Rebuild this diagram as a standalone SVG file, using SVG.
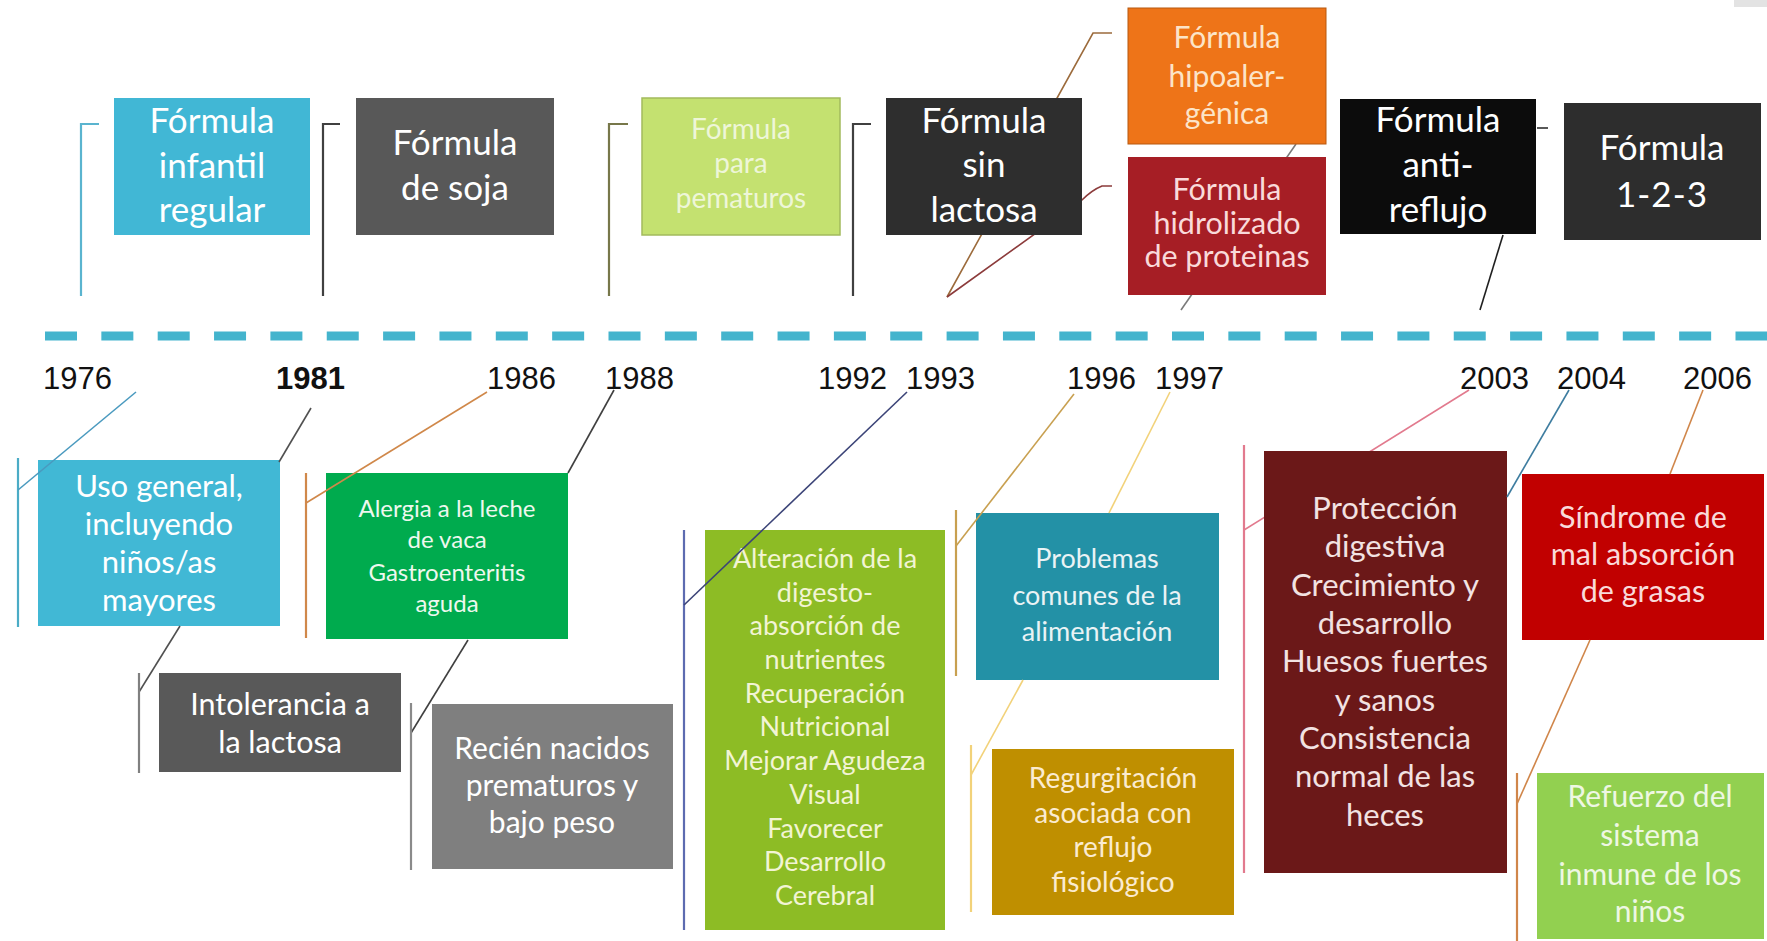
<svg xmlns="http://www.w3.org/2000/svg" width="1767" height="941" viewBox="0 0 1767 941">
<style>
.t{font-family:Lato,"Open Sans","DejaVu Sans",sans-serif;text-anchor:middle}
.y{font-family:"Liberation Sans",Arial,sans-serif;font-size:31px;fill:#111}
.c{fill:none;stroke-width:1.6}
.b{fill:none;stroke-width:2.2}
</style>
<rect width="1767" height="941" fill="#ffffff"/>
<rect x="1734" y="0" width="33" height="7" fill="#e3e3e3"/>

<g id="connectors-back">
<path class="c" stroke="#9c6b3c" d="M1112,33 H1093 L947,297"/>
<path class="c" stroke="#8c3b3b" d="M1112,186 H1102 Q1092,190 1082,200 L947,297"/>
<path class="c" stroke="#7a7a7a" d="M1296,144 L1181,310"/>
<path class="c" stroke="#e27a8e" d="M1469,390 L1244,530"/>
</g>

<line id="timeline" x1="45" y1="336" x2="1767" y2="336" stroke="#44b4cd" stroke-width="9" stroke-dasharray="32 24.35"/>

<g id="n-infantil"><rect x="114" y="98" width="196" height="137" fill="#41b7d5"/>
<text class="t" font-size="35" fill="#fff"><tspan x="212" y="133">Fórmula</tspan><tspan x="212" y="178">infantil</tspan><tspan x="212" y="222">regular</tspan></text></g>
<g id="n-soja"><rect x="356" y="98" width="198" height="137" fill="#585858"/>
<text class="t" font-size="35" fill="#fff"><tspan x="455" y="155">Fórmula</tspan><tspan x="455" y="200">de soja</tspan></text></g>
<g id="n-prematuros"><rect x="642" y="98" width="198" height="137" fill="#c4e170" stroke="#a2ba5c" stroke-width="1.5"/>
<text class="t" font-size="28" fill="#eef6d8"><tspan x="741" y="139">Fórmula</tspan><tspan x="741" y="173">para</tspan><tspan x="741" y="208">pematuros</tspan></text></g>
<g id="n-sinlactosa"><rect x="886" y="98" width="196" height="137" fill="#2e2e2e"/>
<text class="t" font-size="35" fill="#fff"><tspan x="984" y="133">Fórmula</tspan><tspan x="984" y="177">sin</tspan><tspan x="984" y="222">lactosa</tspan></text></g>
<g id="n-hipoalergenica"><rect x="1128" y="8" width="198" height="136" fill="#ee7418" stroke="#b8580f" stroke-width="1"/>
<text class="t" font-size="30" fill="#fce4c8"><tspan x="1227" y="48">Fórmula</tspan><tspan x="1227" y="87">hipoaler-</tspan><tspan x="1227" y="124">génica</tspan></text></g>
<g id="n-hidrolizado"><rect x="1128" y="157" width="198" height="138" fill="#a61e25"/>
<text class="t" font-size="30.5" fill="#f9dada"><tspan x="1227" y="200">Fórmula</tspan><tspan x="1227" y="234">hidrolizado</tspan><tspan x="1227" y="267">de proteinas</tspan></text></g>
<g id="n-antireflujo"><rect x="1340" y="99" width="196" height="135" fill="#0c0c0c"/>
<text class="t" font-size="35" fill="#fff"><tspan x="1438" y="132">Fórmula</tspan><tspan x="1438" y="177">anti-</tspan><tspan x="1438" y="222">reflujo</tspan></text></g>
<g id="n-123"><rect x="1564" y="103" width="197" height="137" fill="#2d2d2d"/>
<text class="t" font-size="35" fill="#fff"><tspan x="1662" y="160">Fórmula</tspan><tspan x="1662" y="207" letter-spacing="1">1-2-3</tspan></text></g>

<g id="years">
<text class="y" x="43" y="389">1976</text>
<text class="y" x="276" y="389" font-weight="bold" font-size="36">1981</text>
<text class="y" x="487" y="389">1986</text>
<text class="y" x="605" y="389">1988</text>
<text class="y" x="818" y="389">1992</text>
<text class="y" x="906" y="389">1993</text>
<text class="y" x="1067" y="389">1996</text>
<text class="y" x="1155" y="389">1997</text>
<text class="y" x="1460" y="389">2003</text>
<text class="y" x="1557" y="389">2004</text>
<text class="y" x="1683" y="389">2006</text>
</g>

<g id="n-usogeneral"><rect x="38" y="460" width="242" height="166" fill="#41b8d5"/>
<text class="t" font-size="31" fill="#fff"><tspan x="159" y="497">Uso general,</tspan><tspan x="159" y="535">incluyendo</tspan><tspan x="159" y="573">niños/as</tspan><tspan x="159" y="611">mayores</tspan></text></g>
<g id="n-intolerancia"><rect x="159" y="673" width="242" height="99" fill="#595959"/>
<text class="t" font-size="30.5" fill="#fff"><tspan x="280" y="715">Intolerancia a</tspan><tspan x="280" y="753">la lactosa</tspan></text></g>
<g id="n-alergia"><rect x="326" y="473" width="242" height="166" fill="#00ab4e"/>
<text class="t" font-size="24" fill="#eef8ee"><tspan x="447" y="517">Alergia a la leche</tspan><tspan x="447" y="548">de vaca</tspan><tspan x="447" y="581">Gastroenteritis</tspan><tspan x="447" y="612">aguda</tspan></text></g>
<g id="n-reciennacidos"><rect x="432" y="704" width="241" height="165" fill="#7f7f7f"/>
<text class="t" font-size="30" fill="#fff"><tspan x="552" y="759">Recién nacidos</tspan><tspan x="552" y="796">prematuros y</tspan><tspan x="552" y="833">bajo peso</tspan></text></g>
<g id="n-alteracion"><rect x="705" y="530" width="240" height="400" fill="#8dbc25"/>
<text class="t" font-size="27" fill="#f2f4d4"><tspan x="825" y="568">Alteración de la</tspan><tspan x="825" y="602">digesto-</tspan><tspan x="825" y="635">absorción de</tspan><tspan x="825" y="669">nutrientes</tspan><tspan x="825" y="703">Recuperación</tspan><tspan x="825" y="736">Nutricional</tspan><tspan x="825" y="770">Mejorar Agudeza</tspan><tspan x="825" y="804">Visual</tspan><tspan x="825" y="838">Favorecer</tspan><tspan x="825" y="871">Desarrollo</tspan><tspan x="825" y="905">Cerebral</tspan></text></g>
<g id="n-problemas"><rect x="976" y="513" width="243" height="167" fill="#2391a6"/>
<text class="t" font-size="27" fill="#eaf3f5"><tspan x="1097" y="568">Problemas</tspan><tspan x="1097" y="605">comunes de la</tspan><tspan x="1097" y="641">alimentación</tspan></text></g>
<g id="n-regurgitacion"><rect x="992" y="749" width="242" height="166" fill="#bf8f00"/>
<text class="t" font-size="28" fill="#fbebd0"><tspan x="1113" y="788">Regurgitación</tspan><tspan x="1113" y="823">asociada con</tspan><tspan x="1113" y="857">reflujo</tspan><tspan x="1113" y="892">fisiológico</tspan></text></g>
<g id="n-proteccion"><rect x="1264" y="451" width="243" height="422" fill="#6b1818"/>
<text class="t" font-size="31" fill="#f2e2e2"><tspan x="1385" y="519">Protección</tspan><tspan x="1385" y="557">digestiva</tspan><tspan x="1385" y="596">Crecimiento y</tspan><tspan x="1385" y="634">desarrollo</tspan><tspan x="1385" y="672">Huesos fuertes</tspan><tspan x="1385" y="711">y sanos</tspan><tspan x="1385" y="749">Consistencia</tspan><tspan x="1385" y="787">normal de las</tspan><tspan x="1385" y="826">heces</tspan></text></g>
<g id="n-sindrome"><rect x="1522" y="474" width="242" height="166" fill="#c10000"/>
<text class="t" font-size="30.5" fill="#f9dada"><tspan x="1643" y="528">Síndrome de</tspan><tspan x="1643" y="565">mal absorción</tspan><tspan x="1643" y="602">de grasas</tspan></text></g>
<g id="n-refuerzo"><rect x="1537" y="773" width="227" height="166" fill="#92d050"/>
<text class="t" font-size="30" fill="#eef7e3"><tspan x="1650" y="807">Refuerzo del</tspan><tspan x="1650" y="846">sistema</tspan><tspan x="1650" y="885">inmune de los</tspan><tspan x="1650" y="922">niños</tspan></text></g>

<g id="connectors">
<path class="b" stroke="#5ab4cf" d="M99,124 H81 V296"/>
<path class="b" stroke="#404040" d="M340,124 H323 V296"/>
<path class="b" stroke="#77774a" d="M628,124 H609 V296"/>
<path class="b" stroke="#404040" d="M871,124 H853 V296"/>
<path class="c" stroke="#202020" d="M1503,235 L1480,310"/>
<path class="c" stroke="#303030" d="M1537,128 H1548"/>
<path class="b" stroke="#4bacc6" d="M18,458 V627"/>
<path class="c" stroke="#4a9abf" d="M136,392 L18,490"/>
<path class="c" stroke="#505050" d="M311,408 L279,462"/>
<path class="c" stroke="#505050" d="M180,626 L139,692"/>
<path class="b" stroke="#808080" d="M139,673 V773"/>
<path class="b" stroke="#d0884a" d="M306,473 V638"/>
<path class="c" stroke="#d0884a" d="M487,392 L306,503"/>
<path class="c" stroke="#404040" d="M614,390 L568,473"/>
<path class="c" stroke="#404040" d="M468,640 L411,733"/>
<path class="b" stroke="#8a8a8a" d="M411,703 V870"/>
<path class="b" stroke="#5d6bb0" d="M684,530 V930"/>
<path class="c" stroke="#3c4478" d="M907,392 L684,605"/>
<path class="b" stroke="#c8a050" d="M956,510 V676"/>
<path class="c" stroke="#c8a050" d="M1074,394 L956,546"/>
<path class="c" stroke="#f2d27a" d="M1170,392 L1109,513"/>
<path class="c" stroke="#f2d27a" d="M1023,680 L971,775"/>
<path class="b" stroke="#f2d27a" d="M971,745 V912"/>
<path class="b" stroke="#e27a8e" d="M1244,445 V873"/>
<path class="c" stroke="#3e7da0" d="M1569,390 L1507,497"/>
<path class="c" stroke="#d0864a" d="M1703,390 L1670,474"/>
<path class="c" stroke="#d0864a" d="M1590,640 L1517,804"/>
<path class="b" stroke="#d0864a" d="M1517,773 V941"/>
</g>
</svg>
